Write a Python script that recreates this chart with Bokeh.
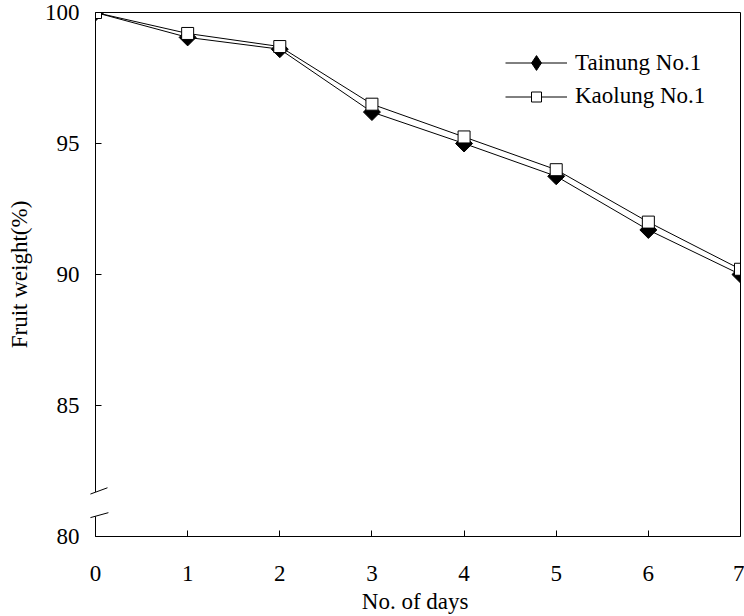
import math
from bokeh.plotting import figure
from bokeh.models import ColumnDataSource, Legend, LegendItem, FixedTicker, LinearAxis
from bokeh.embed import file_html
from bokeh.resources import INLINE

days = [0, 1, 2, 3, 4, 5, 6, 7]
tainung = [100, 99.05, 98.6, 96.2, 95.0, 93.75, 91.7, 90.0]
kaolung = [100, 99.2, 98.7, 96.5, 95.25, 94.0, 92.0, 90.2]
y_ticks = [80, 85, 90, 95, 100]
x_ticks = days
x_title = "No. of  days"
y_title = "Fruit weight(%)"

FONT = "Liberation Serif"
FS = "23px"

src = ColumnDataSource(dict(day=days, tainung=tainung, kaolung=kaolung))

p = figure(width=744, height=616, x_range=(0, 7), y_range=(80, 100),
           output_backend="svg", toolbar_location=None,
           min_border_left=95, min_border_right=4, min_border_top=12, min_border_bottom=80)
p.outline_line_color = None
p.grid.visible = False
p.background_fill_color = "white"

for ax in (p.xaxis[0], p.yaxis[0]):
    ax.major_tick_in = 6
    ax.major_tick_out = 0
    ax.minor_tick_line_color = None
    ax.major_tick_line_color = "black"
    ax.major_label_text_font = FONT
    ax.major_label_text_font_size = FS
    ax.major_label_text_color = "black"
    ax.axis_label_text_font = FONT
    ax.axis_label_text_font_size = FS
    ax.axis_label_text_font_style = "normal"
    ax.axis_label_text_color = "black"

p.xaxis.ticker = FixedTicker(ticks=x_ticks)
p.yaxis.ticker = FixedTicker(ticks=y_ticks)
p.xaxis.axis_label = x_title
p.yaxis.axis_label = y_title
p.xaxis.major_label_standoff = 29
p.xaxis.axis_label_standoff = 5
p.yaxis.major_label_standoff = 16
p.yaxis.axis_label_standoff = 10
p.xaxis.axis_line_color = "black"
p.yaxis.axis_line_color = None

# top and right frame lines
for side in ("above", "right"):
    a = LinearAxis(major_tick_line_color=None, minor_tick_line_color=None,
                   major_label_text_font_size="0px", major_label_standoff=0,
                   axis_line_color="black", ticker=FixedTicker(ticks=[]))
    p.add_layout(a, side)

# left axis line with a break
p.segment(x0=[0, 0], y0=[80, 81.70], x1=[0, 0], y1=[80.77, 100],
          line_color="black", line_width=1, level="overlay")
p.segment(x0=[-0.055, -0.055], y0=[80.72, 81.62], x1=[0.14, 0.13], y1=[80.91, 81.86],
          line_color="black", line_width=1, level="overlay")

l1 = p.line("day", "tainung", source=src, line_color="black", line_width=1)
m1 = p.scatter("day", "tainung", source=src, marker="square", size=12, angle=math.pi / 4,
               fill_color="black", line_color="black")
l2 = p.line("day", "kaolung", source=src, line_color="black", line_width=1)
m2 = p.scatter("day", "kaolung", source=src, marker="square", size=12,
               fill_color="white", line_color="black", line_width=1)

# legend-only diamond swatch (placeholder point, not drawn)
m1_leg = p.scatter(x=[math.nan], y=[math.nan], marker="diamond",
                   fill_color="black", line_color="black")

common = dict(border_line_color=None, background_fill_alpha=0, padding=0, margin=0,
              glyph_width=62, label_standoff=8, label_text_font=FONT,
              label_text_font_size=FS, label_text_color="black")
leg1 = Legend(items=[LegendItem(label="Tainung No.1", renderers=[l1, m1_leg])],
              location=(410, 455), glyph_height=37, label_height=37, **common)
leg2 = Legend(items=[LegendItem(label="Kaolung No.1", renderers=[l2, m2])],
              location=(410, 427), glyph_height=25, label_height=25, **common)
p.add_layout(leg1)
p.add_layout(leg2)

open("out.html", "w").write(file_html(p, INLINE))
